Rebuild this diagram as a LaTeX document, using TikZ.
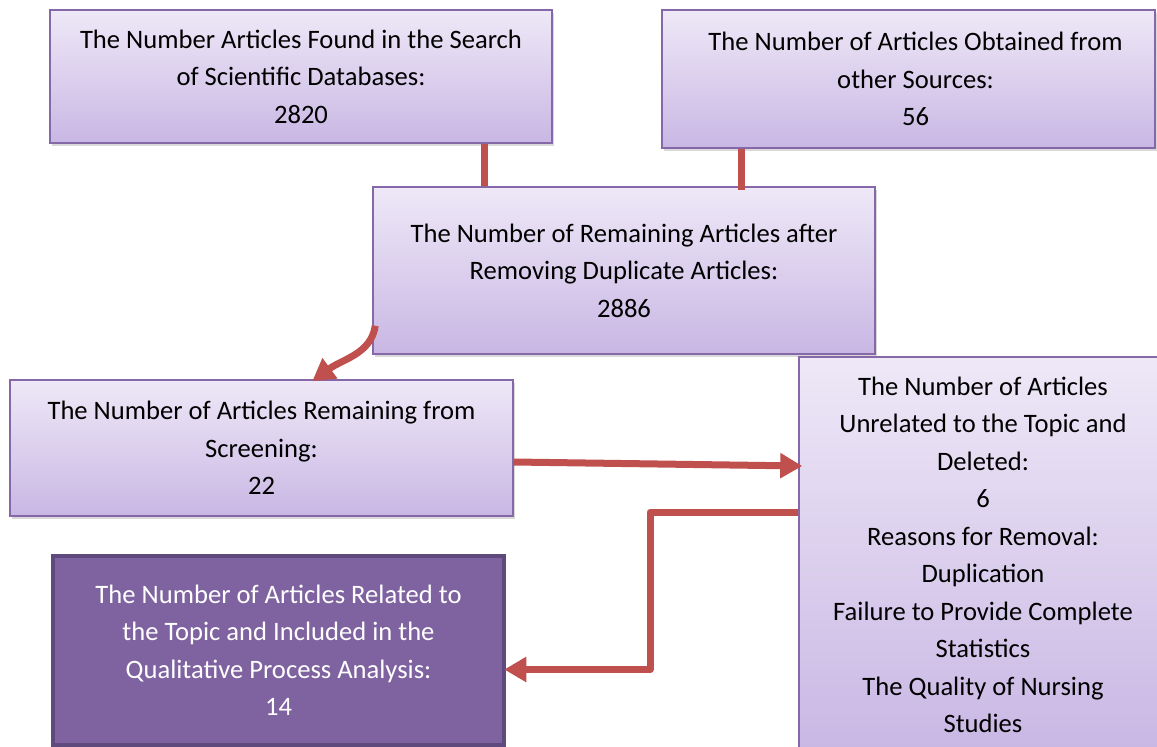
\documentclass[tikz,border=0pt]{standalone}
\usepackage{fontspec}
\setmainfont{Carlito}
\usetikzlibrary{arrows.meta,shadows,calc}
\definecolor{boxtop}{HTML}{EEE8F7}
\definecolor{boxbot}{HTML}{C9B7E4}
\definecolor{boxline}{HTML}{8468A8}
\definecolor{darkfill}{HTML}{7F63A0}
\definecolor{darkline}{HTML}{5E4A7C}
\definecolor{conred}{HTML}{C0504D}
\tikzset{
  lightbox/.style={draw=boxline, line width=1.5pt, top color=boxtop, bottom color=boxbot,
    align=center, inner sep=0pt, text=black,
    font=\fontsize{26.6}{37.5}\selectfont,
    drop shadow={shadow xshift=2pt, shadow yshift=-3pt, opacity=0.3}},
  darkbox/.style={draw=darkline, line width=4.5pt, fill=darkfill,
    align=center, inner sep=0pt, text=white,
    font=\fontsize{26.6}{37.5}\selectfont,
    drop shadow={shadow xshift=2pt, shadow yshift=-3pt, opacity=0.3}},
  conn/.style={draw=conred, line width=7pt, line join=round},
  arr/.style={conn, -{Triangle[length=22pt,width=24pt]}}
}
\begin{document}
\begin{tikzpicture}[x=1pt,y=-1pt]
\useasboundingbox (0,0) rectangle (1157,747);
\clip (0,0) rectangle (1157,747);
\node[lightbox, minimum width=502pt, minimum height=133pt] (A) at (301,76.5)
  {The Number Articles Found in the Search\\of Scientific Databases:\\2820};
\node[lightbox, minimum width=493pt, minimum height=138pt] (B) at (908.5,79)
  {\hspace*{14pt}The Number of Articles Obtained from\\\hspace*{14pt}other Sources:\\\hspace*{14pt}56};
\node[lightbox, minimum width=502pt, minimum height=167pt] (C) at (624,270.5)
  {The Number of Remaining Articles after\\Removing Duplicate Articles:\\2886};
\node[lightbox, minimum width=503pt, minimum height=136pt] (D) at (261.5,448)
  {The Number of Articles Remaining from\\Screening:\\22};
\node[lightbox, minimum width=368pt, minimum height=396pt] (E) at (983,555)
  {The Number of Articles\\Unrelated to the Topic and\\Deleted:\\6\\Reasons for Removal:\\Duplication\\Failure to Provide Complete\\Statistics\\The Quality of Nursing\\Studies};
\node[darkbox, minimum width=451pt, minimum height=189pt] (F) at (278.5,650.5)
  {The Number of Articles Related to\\the Topic and Included in the\\Qualitative Process Analysis:\\14};
\coordinate (xa) at (484,0);
\coordinate (xb) at (741,0);
\coordinate (xe) at (650,0);
\draw[conn] (xa |- A.south) -- (xa |- C.north);
\draw[conn] (xb |- B.south) -- ([yshift=-4pt]xb |- C.north);
\draw[arr] ([xshift=3pt,yshift=29pt]C.south west) .. controls +(-4,28) and +(30,-22) .. ([xshift=303pt,yshift=-2pt]D.north west);
\draw[arr] ([yshift=-14pt]D.east) -- ([xshift=4pt,yshift=89pt]E.west);
\draw[arr] ([yshift=43pt]E.west) -| ([yshift=-19pt]xe |- F.east) -- ([xshift=-2pt,yshift=-19pt]F.east);
\end{tikzpicture}
\end{document}
